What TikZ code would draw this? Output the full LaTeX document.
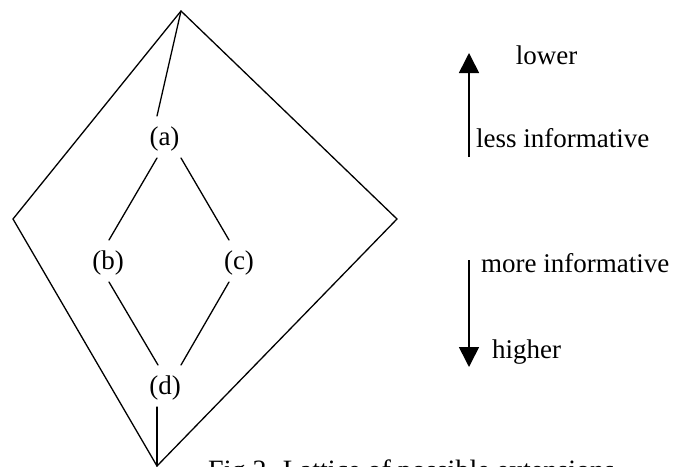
\documentclass[tikz,border=0pt]{standalone}
\usepackage{fontspec}
\setmainfont{Liberation Serif}
\usetikzlibrary{arrows.meta}
\begin{document}
\begin{tikzpicture}[x=1pt,y=-1pt,
  edge/.style={line width=1.3pt, line cap=round, line join=miter},
  lbl/.style={inner sep=6.5pt, font=\fontsize{27}{30}\selectfont},
  txt/.style={inner sep=0pt, font=\fontsize{27}{30}\selectfont},
  bigarrow/.style={line width=1.6pt, -{Triangle[width=20pt,length=20pt]}}]
\useasboundingbox (0,0) rectangle (677,466);
\clip (0,0) rectangle (677,466);
% outer lattice vertices
\coordinate (T) at (181,11);
\coordinate (L) at (13,219);
\coordinate (B) at (157,466);
\coordinate (R) at (397,219);
% inner nodes
\node[lbl] (a) at (164.5,139) {(a)};
\node[lbl] (b) at (108,263) {(b)};
\node[lbl] (c) at (239,263) {(c)};
\node[lbl] (d) at (165,388) {(d)};
% outer diamond
\draw[edge] (T) -- (L) -- (B) -- (R) -- cycle;
% inner lattice
\draw[edge] (T) -- ([shift={(-7.5,-23)}]a.center);
\draw[edge] ([shift={(-7.5,19)}]a.center) -- ([shift={(1,-23)}]b.center);
\draw[edge] ([shift={(16.5,19)}]a.center) -- ([shift={(-10,-23)}]c.center);
\draw[edge] ([shift={(1,19)}]b.center) -- ([shift={(-7,-23)}]d.center);
\draw[edge] ([shift={(-10,19)}]c.center) -- ([shift={(16,-23)}]d.center);
\draw[edge] ([shift={(-8,19)}]d.center) -- (B);
% arrows and their labels
\coordinate (upbot) at (469,157);
\coordinate (uptip) at (469,53);
\coordinate (dntop) at (469,260);
\coordinate (dntip) at (469,367);
\draw[bigarrow] (upbot) -- (uptip);
\draw[bigarrow] (dntop) -- (dntip);
\node[txt] (lower) at (546.5,55) {lower};
\node[txt, anchor=west] (less) at (476,138) {less informative};
\node[txt, anchor=west] (more) at (481,263) {more informative};
\node[txt, anchor=west] (higher) at (492,352) {higher};
% caption (cut off at the bottom edge)
\node[txt, anchor=base west, font=\fontsize{28}{30}\selectfont] (cap) at (208,479) {Fig.2. Lattice of possible extensions};
\end{tikzpicture}
\end{document}
